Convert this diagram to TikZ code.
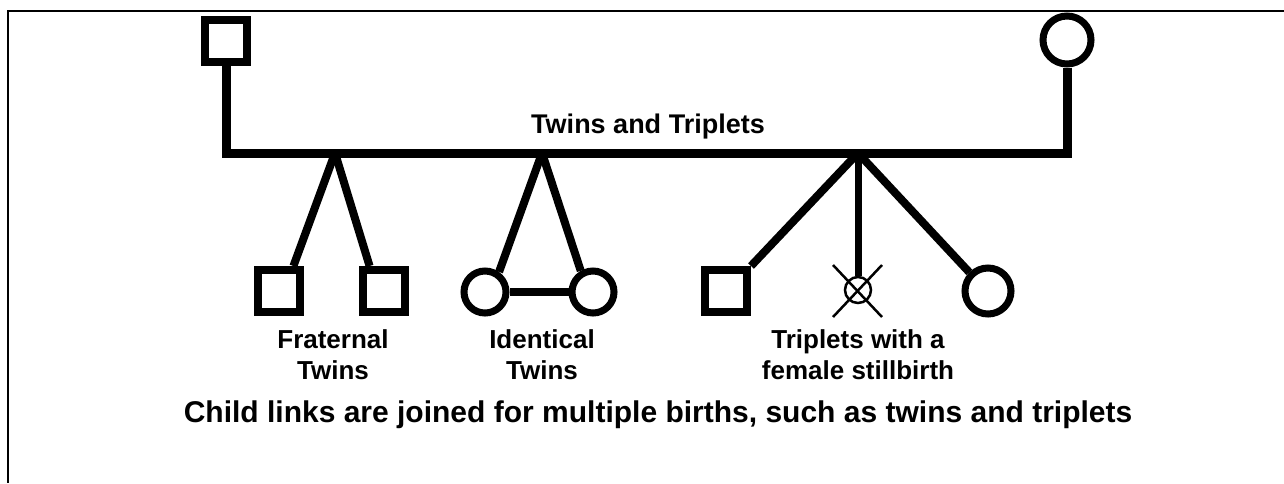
\documentclass[tikz,border=0pt]{standalone}
\usepackage{fontspec}
\setmainfont{Liberation Sans}
\usetikzlibrary{positioning}

\tikzset{
  male/.style={draw, rectangle, line width=8pt, minimum size=42pt, inner sep=0pt},
  female/.style={draw, circle, line width=7pt, minimum size=44pt, inner sep=0pt},
  stillborn/.style={draw, circle, line width=2.5pt, minimum size=26pt, inner sep=0pt},
  link/.style={line width=8pt},
  label/.style={align=center, font=\fontsize{26}{31}\selectfont\bfseries}
}

\begin{document}
\begin{tikzpicture}[x=1pt, y=-1pt]
                \useasboundingbox (0,0) rectangle (1284,483);
                % frame
                \coordinate (frameTop) at (7,11);
                \coordinate (frameRight) at (1284,11);
                \coordinate (frameBottom) at (8,483);
                \draw[line width=2.5pt] (frameRight) -- (frameTop) ++(1,0) -- (frameBottom);

                % --------
                % Parents
                % --------
                \node[male] at (226, 41) (father) {};
                \node[female, minimum size=48pt] at (1067, 40) (mother) {};
                \coordinate (bar) at (0, 153);

                \draw[link, line width=9pt] (father.south) -- (father |- bar) -- (mother |- bar) -- (mother.south);
                \node[label, font=\fontsize{27}{31}\selectfont\bfseries] at (648, 127) (textTwins) {Twins and Triplets};

                % --------
                % Fraternal twins
                % --------
                \coordinate (fraternal) at (335, 153);
                \node[male] at (279, 291) (frat1) {};
                \node[male] at (384, 291) (frat2) {};
                \draw[link] (fraternal) -- (frat1.60);
                \draw[link] (fraternal) -- (frat2.120);
                \node[label] at (333, 355) (textFraternal) {Fraternal\\Twins};

                % --------
                % Identical twins
                % --------
                \coordinate (identical) at (542, 153);
                \node[female, minimum size=42pt] at (485, 292) (ident1) {};
                \node[female, minimum size=42pt] at (593, 292) (ident2) {};
                \draw[link] (identical) -- (ident1.55);
                \draw[link] (identical) -- (ident2.120);
                \draw[link] (ident1) -- (ident2);
                \node[label] at (542, 355) (textIdentical) {Identical\\Twins};

                % --------
                % Triplets
                % --------
                \coordinate (triplets) at (858, 153);
                \node[male] at (726, 291) (trip1) {};
                \node[stillborn] at (858, 290) (trip2) {};
                \node[female, minimum size=46pt] at (988, 291) (trip3) {};
                \coordinate (crossA) at (833, 265);
                \coordinate (crossB) at (882, 317);
                \coordinate (crossC) at (882, 265);
                \coordinate (crossD) at (833, 317);
                \draw[link] (triplets) -- (trip1.north east);
                \draw[link, line width=7pt] (triplets) -- (trip2.north);
                \draw[link] (triplets) -- (trip3.135);
                \draw[line width=2.5pt] (crossA) -- (crossB);
                \draw[line width=2.5pt] (crossC) -- (crossD);
                \node[label] at (858, 355) (textTriplets) {Triplets with a\\female stillbirth};

                % caption
                \node[font=\fontsize{30}{36}\selectfont\bfseries] at (658, 415) (caption) {Child links are joined for multiple births, such as twins and triplets};
\end{tikzpicture}
\end{document}
